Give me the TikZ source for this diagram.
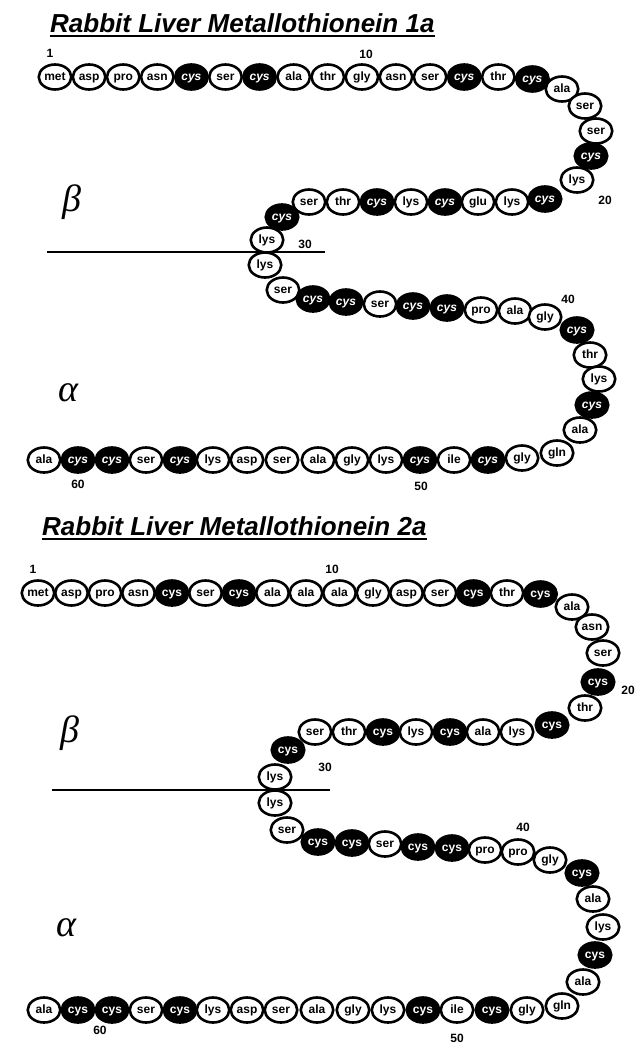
\documentclass[tikz,border=0pt]{standalone}
\usepackage{fontspec}
\setmainfont{Liberation Sans}
\newfontfamily\greekfam{Liberation Serif}
\usetikzlibrary{shapes.geometric}
\newcommand{\resfont}{\fontsize{12}{13}\selectfont\bfseries}
\newcommand{\numfont}{\fontsize{12}{13}\selectfont\bfseries}
\newcommand{\titlefont}{\fontsize{26}{29}\selectfont\bfseries\itshape}
\newcommand{\grkfont}{\greekfam\fontsize{38}{40}\selectfont\itshape}
\tikzset{
  res/.style={ellipse, draw=black, line width=2.6pt, minimum width=32.5pt,
              minimum height=25pt, inner sep=0pt, text height=6pt,
              text depth=0pt, font=\resfont},
  wb/.style={res, fill=white, text=black},
  bb/.style={res, fill=black, text=white},
  bbi/.style={bb, font=\resfont\itshape},
  num/.style={inner sep=0pt, font=\numfont},
  grk/.style={inner sep=0pt, font=\grkfont},
  ttl/.style={inner sep=0pt, anchor=base west, font=\titlefont},
  rule/.style={line width=2.4pt},
  uline/.style={line width=1.6pt}
}
\begin{document}
\begin{tikzpicture}[x=1pt, y=-1pt]
\useasboundingbox[fill=white] (0,0) rectangle (642,1047);

% ---------------- Metallothionein 1a ----------------
\node[ttl] (t1) at (50,32) {Rabbit Liver Metallothionein 1a};
\draw[uline] ([yshift=-4pt]t1.base west) -- ([yshift=-4pt]t1.base east);

\node[grk] (beta1) at (72,202) {β};
\node[grk] (alpha1) at (68,393) {α};
\coordinate (l1a) at (47,252);
\coordinate (l1b) at (325,252);
\draw[rule] (l1a) -- (l1b);

% N-terminal row
\node[wb]  (a1)  at (55.0,77) {met};
\node[wb]  (a2)  at (89.1,77) {asp};
\node[wb]  (a3)  at (123.2,77) {pro};
\node[wb]  (a4)  at (157.3,77) {asn};
\node[bbi] (a5)  at (191.4,77) {cys};
\node[wb]  (a6)  at (225.5,77) {ser};
\node[bbi] (a7)  at (259.6,77) {cys};
\node[wb]  (a8)  at (293.7,77) {ala};
\node[wb]  (a9)  at (327.8,77) {thr};
\node[wb]  (a10) at (361.9,77) {gly};
\node[wb]  (a11) at (396.0,77) {asn};
\node[wb]  (a12) at (430.1,77) {ser};
\node[bbi] (a13) at (464.2,77) {cys};
\node[wb]  (a14) at (498.3,77) {thr};
\node[bbi] (a15) at (532.4,79) {cys};
% first turn
\node[wb]  (a16) at (562,89) {ala};
\node[wb]  (a17) at (585,106) {ser};
\node[wb]  (a18) at (596,131) {ser};
\node[bbi] (a19) at (591,156) {cys};
\node[wb]  (a20) at (577,180) {lys};
\node[bbi] (a21) at (545,199) {cys};
% second row
\node[wb]  (a22) at (512,202) {lys};
\node[wb]  (a23) at (478,202) {glu};
\node[bbi] (a24) at (445,202) {cys};
\node[wb]  (a25) at (411,202) {lys};
\node[bbi] (a26) at (377,202) {cys};
\node[wb]  (a27) at (343,202) {thr};
\node[wb]  (a28) at (309,202) {ser};
\node[bbi] (a29) at (282,217) {cys};
\node[wb]  (a30) at (267,240) {lys};
\node[wb]  (a31) at (265,265) {lys};
\node[wb]  (a32) at (283,290) {ser};
% third row
\node[bbi] (a33) at (313,299) {cys};
\node[bbi] (a34) at (346,302) {cys};
\node[wb]  (a35) at (380,304) {ser};
\node[bbi] (a36) at (413,306) {cys};
\node[bbi] (a37) at (447,308) {cys};
\node[wb]  (a38) at (481,310) {pro};
\node[wb]  (a39) at (515,311) {ala};
\node[wb]  (a40) at (545,317) {gly};
% second turn
\node[bbi] (a41) at (577,330) {cys};
\node[wb]  (a42) at (590,355) {thr};
\node[wb]  (a43) at (599,379) {lys};
\node[bbi] (a44) at (592,405) {cys};
\node[wb]  (a45) at (580,430) {ala};
\node[wb]  (a46) at (557,453) {gln};
% C-terminal row
\node[wb]  (a47) at (522,458) {gly};
\node[bbi] (a48) at (488,460) {cys};
\node[wb]  (a49) at (454,460) {ile};
\node[bbi] (a50) at (420,460) {cys};
\node[wb]  (a51) at (386,460) {lys};
\node[wb]  (a52) at (352,460) {gly};
\node[wb]  (a53) at (318,460) {ala};
\node[wb]  (a54) at (282,460) {ser};
\node[wb]  (a55) at (247,460) {asp};
\node[wb]  (a56) at (213,460) {lys};
\node[bbi] (a57) at (180,460) {cys};
\node[wb]  (a58) at (146,460) {ser};
\node[bbi] (a59) at (112,460) {cys};
\node[bbi] (a60) at (78,460) {cys};
\node[wb]  (a61) at (44,460) {ala};

\node[num] (n1a)  at (50,53) {1};
\node[num] (n10a) at (366,54) {10};
\node[num] (n20a) at (605,200) {20};
\node[num] (n30a) at (305,244) {30};
\node[num] (n40a) at (568,299) {40};
\node[num] (n50a) at (421,486) {50};
\node[num] (n60a) at (78,484) {60};

% ---------------- Metallothionein 2a ----------------
\node[ttl] (t2) at (42,535) {Rabbit Liver Metallothionein 2a};
\draw[uline] ([yshift=-4pt]t2.base west) -- ([yshift=-4pt]t2.base east);

\node[grk] (beta2) at (70,733) {β};
\node[grk] (alpha2) at (66,928) {α};
\coordinate (l2a) at (52,790);
\coordinate (l2b) at (330,790);
\draw[rule] (l2a) -- (l2b);

% N-terminal row
\node[wb] (b1)  at (38.0,593) {met};
\node[wb] (b2)  at (71.5,593) {asp};
\node[wb] (b3)  at (105.0,593) {pro};
\node[wb] (b4)  at (138.5,593) {asn};
\node[bb] (b5)  at (172.0,593) {cys};
\node[wb] (b6)  at (205.5,593) {ser};
\node[bb] (b7)  at (239.0,593) {cys};
\node[wb] (b8)  at (272.5,593) {ala};
\node[wb] (b9)  at (306.0,593) {ala};
\node[wb] (b10) at (339.5,593) {ala};
\node[wb] (b11) at (373.0,593) {gly};
\node[wb] (b12) at (406.5,593) {asp};
\node[wb] (b13) at (440.0,593) {ser};
\node[bb] (b14) at (473.5,593) {cys};
\node[wb] (b15) at (507.0,593) {thr};
\node[bb] (b16) at (540.5,594) {cys};
% first turn
\node[wb] (b17) at (572,607) {ala};
\node[wb] (b18) at (592,627) {asn};
\node[wb] (b19) at (603,653) {ser};
\node[bb] (b20) at (598,682) {cys};
\node[wb] (b21) at (585,708) {thr};
\node[bb] (b22) at (552,725) {cys};
% second row
\node[wb] (b23) at (517,732) {lys};
\node[wb] (b24) at (483,732) {ala};
\node[bb] (b25) at (450,732) {cys};
\node[wb] (b26) at (416,732) {lys};
\node[bb] (b27) at (383,732) {cys};
\node[wb] (b28) at (349,732) {thr};
\node[wb] (b29) at (315,732) {ser};
\node[bb] (b30) at (288,750) {cys};
\node[wb] (b31) at (275,777) {lys};
\node[wb] (b32) at (275,803) {lys};
\node[wb] (b33) at (287,830) {ser};
% third row
\node[bb] (b34) at (318,842) {cys};
\node[bb] (b35) at (352,843) {cys};
\node[wb] (b36) at (385,844) {ser};
\node[bb] (b37) at (418,847) {cys};
\node[bb] (b38) at (452,848) {cys};
\node[wb] (b39) at (485,850) {pro};
\node[wb] (b40) at (518,852) {pro};
\node[wb] (b41) at (550,860) {gly};
% second turn
\node[bb] (b42) at (582,873) {cys};
\node[wb] (b43) at (593,899) {ala};
\node[wb] (b44) at (603,927) {lys};
\node[bb] (b45) at (595,955) {cys};
\node[wb] (b46) at (583,982) {ala};
\node[wb] (b47) at (562,1006) {gln};
% C-terminal row
\node[wb] (b48) at (527,1010) {gly};
\node[bb] (b49) at (492,1010) {cys};
\node[wb] (b50) at (457,1010) {ile};
\node[bb] (b51) at (423,1010) {cys};
\node[wb] (b52) at (388,1010) {lys};
\node[wb] (b53) at (353,1010) {gly};
\node[wb] (b54) at (317,1010) {ala};
\node[wb] (b55) at (281,1010) {ser};
\node[wb] (b56) at (247,1010) {asp};
\node[wb] (b57) at (213,1010) {lys};
\node[bb] (b58) at (180,1010) {cys};
\node[wb] (b59) at (146,1010) {ser};
\node[bb] (b60) at (112,1010) {cys};
\node[bb] (b61) at (78,1010) {cys};
\node[wb] (b62) at (44,1010) {ala};

\node[num] (n1b)  at (33,569) {1};
\node[num] (n10b) at (332,569) {10};
\node[num] (n20b) at (628,690) {20};
\node[num] (n30b) at (325,767) {30};
\node[num] (n40b) at (523,827) {40};
\node[num] (n50b) at (457,1038) {50};
\node[num] (n60b) at (100,1030) {60};
\end{tikzpicture}
\end{document}
